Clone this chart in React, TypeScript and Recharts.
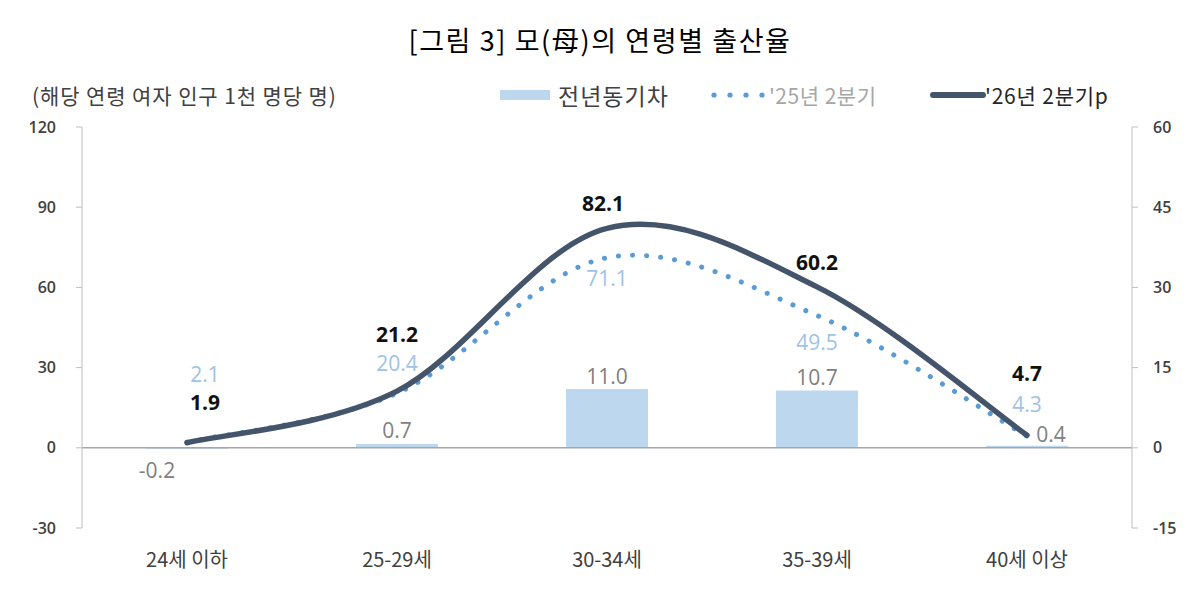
import React from 'react';
import { ComposedChart, Bar, Line, XAxis, YAxis, ReferenceLine } from 'recharts';

// 연령별 출산율 (해당 연령 여자 인구 1천 명당 명)
const categories = ['24세 이하', '25-29세', '30-34세', '35-39세', '40세 이상'];
const yoyDiff = [-0.2, 0.7, 11.0, 10.7, 0.4];
const rate2025 = [2.1, 20.4, 71.1, 49.5, 4.3];
const rate2026 = [1.9, 21.2, 82.1, 60.2, 4.7];
const leftTicks = [-30, 0, 30, 60, 90, 120];
const rightTicks = [-15, 0, 15, 30, 45, 60];

const data = categories.map((name, i) => ({
  name,
  diff: yoyDiff[i],
  q25: rate2025[i],
  q26: rate2026[i],
}));

// label offsets from the mark, [dx, dy]
const diffOffsets = [[-30, 22], [0, -14], [0, -13], [0, -14], [24, -12]];
const q25Offsets = [[18, -68], [0, -30], [0, 20], [0, 27], [0, -32]];
const q26Offsets = [[18, -41], [0, -57], [-4, -25], [0, -25], [0, -62]];

const KR_FONT = "'Noto Sans CJK KR', 'Noto Sans', sans-serif";
const NUM_FONT = "'Open Sans', 'Noto Sans CJK KR', sans-serif";

const COLORS = {
  bar: '#BDD7EE',
  q25: '#5B9BD5',
  q26: '#44546A',
  axis: '#BFBFBF',
  tick: '#404040',
};

// Excel-style smoothed line (Catmull-Rom through every point)
function smoothCurve(context: any) {
  let pts: number[][] = [];
  return {
    areaStart() {},
    areaEnd() {},
    lineStart() {
      pts = [];
    },
    point(x: number, y: number) {
      pts.push([x, y]);
    },
    lineEnd() {
      const n = pts.length;
      if (!n) return;
      context.moveTo(pts[0][0], pts[0][1]);
      for (let i = 0; i < n - 1; i++) {
        const p0 = pts[Math.max(0, i - 1)];
        const p1 = pts[i];
        const p2 = pts[i + 1];
        const p3 = pts[Math.min(n - 1, i + 2)];
        context.bezierCurveTo(
          p1[0] + (p2[0] - p0[0]) / 6,
          p1[1] + (p2[1] - p0[1]) / 6,
          p2[0] - (p3[0] - p1[0]) / 6,
          p2[1] - (p3[1] - p1[1]) / 6,
          p2[0],
          p2[1]
        );
      }
    },
  };
}

function makeLabel(offsets: number[][], fill: string, fontWeight: number) {
  return (props: any) => {
    const { x, y, width, height, value, index } = props;
    const cx = width != null ? x + width / 2 : x;
    const top = height != null ? Math.min(y, y + height) : y;
    const [dx, dy] = offsets[index] || [0, 0];
    return (
      <text
        key={`lbl-${index}`}
        x={cx + dx}
        y={top + dy}
        textAnchor="middle"
        dominantBaseline="central"
        fill={fill}
        fontSize={21}
        fontWeight={fontWeight}
        fontFamily={NUM_FONT}
      >
        {Number(value).toFixed(1)}
      </text>
    );
  };
}

function ChartLegend() {
  const text = { position: 'absolute' as const, top: 80, fontFamily: KR_FONT, lineHeight: '30px' };
  return (
    <>
      <div style={{ position: 'absolute', left: 500, top: 90, width: 50, height: 10, background: COLORS.bar }} />
      <div style={{ ...text, left: 558, fontSize: 23, letterSpacing: 1, color: '#404040' }}>전년동기차</div>
      <svg style={{ position: 'absolute', left: 708, top: 85 }} width={60} height={20}>
        {[6, 22, 38, 54].map((cx) => (
          <circle key={cx} cx={cx} cy={10} r={2.6} fill={COLORS.q25} />
        ))}
      </svg>
      <div style={{ ...text, left: 769, fontSize: 21, letterSpacing: 0.5, color: '#A6A6A6' }}>'25년 2분기</div>
      <svg style={{ position: 'absolute', left: 930, top: 85 }} width={56} height={20}>
        <line x1={3} y1={10} x2={53} y2={10} stroke={COLORS.q26} strokeWidth={6} strokeLinecap="round" />
      </svg>
      <div style={{ ...text, left: 985, fontSize: 21, letterSpacing: 0.8, color: '#262626' }}>'26년 2분기p</div>
    </>
  );
}

export default function App() {
  return (
    <div style={{ position: 'absolute', left: 0, top: 0, width: 1200, height: 608, background: '#fff' }}>
      <div
        style={{
          position: 'absolute',
          top: 22,
          left: 0,
          width: 1200,
          textAlign: 'center',
          fontFamily: KR_FONT,
          fontSize: 27,
          letterSpacing: 1.6,
          color: '#000',
          lineHeight: '36px',
        }}
      >
        [그림 3] 모(母)의 연령별 출산율
      </div>
      <div
        style={{
          position: 'absolute',
          top: 80,
          left: 32,
          fontFamily: KR_FONT,
          fontSize: 21,
          letterSpacing: 0.9,
          color: '#404040',
          lineHeight: '30px',
        }}
      >
        (해당 연령 여자 인구 1천 명당 명)
      </div>
      <ChartLegend />
      <div style={{ position: 'absolute', left: 0, top: 0 }}>
        <ComposedChart width={1200} height={608} data={data} margin={{ top: 127, right: 18, bottom: 40, left: 22 }}>
          <XAxis
            dataKey="name"
            axisLine={false}
            tickLine={false}
            tickSize={0}
            tickMargin={25}
            height={40}
            tick={{ fontSize: 20, fill: COLORS.tick, fontFamily: KR_FONT }}
          />
          <YAxis
            yAxisId="left"
            domain={[-30, 120]}
            ticks={leftTicks}
            width={60}
            axisLine={{ stroke: COLORS.axis }}
            tickLine={{ stroke: COLORS.axis }}
            tickSize={6}
            tickMargin={20}
            tick={{ fontSize: 16, fontWeight: 600, fill: COLORS.tick, fontFamily: NUM_FONT }}
          />
          <YAxis
            yAxisId="right"
            orientation="right"
            domain={[-15, 60]}
            ticks={rightTicks}
            width={50}
            axisLine={{ stroke: COLORS.axis }}
            tickLine={{ stroke: COLORS.axis }}
            tickSize={6}
            tickMargin={15}
            tick={{ fontSize: 16, fontWeight: 600, fill: COLORS.tick, fontFamily: NUM_FONT }}
          />
          <ReferenceLine yAxisId="left" y={0} stroke="#A6A6A6" strokeWidth={1.5} />
          <Bar
            yAxisId="right"
            dataKey="diff"
            name="전년동기차"
            fill={COLORS.bar}
            barSize={82}
            isAnimationActive={false}
            label={makeLabel(diffOffsets, '#808080', 400)}
          />
          <Line
            yAxisId="left"
            type={smoothCurve as any}
            dataKey="q25"
            name="'25년 2분기"
            stroke={COLORS.q25}
            strokeWidth={5}
            strokeDasharray="0.1 14"
            strokeLinecap="round"
            dot={false}
            activeDot={false}
            isAnimationActive={false}
            label={makeLabel(q25Offsets, '#9DC3E6', 400)}
          />
          <Line
            yAxisId="left"
            type={smoothCurve as any}
            dataKey="q26"
            name="'26년 2분기p"
            stroke={COLORS.q26}
            strokeWidth={5.5}
            strokeLinecap="round"
            dot={false}
            activeDot={false}
            isAnimationActive={false}
            label={makeLabel(q26Offsets, '#111111', 700)}
          />
        </ComposedChart>
      </div>
    </div>
  );
}
